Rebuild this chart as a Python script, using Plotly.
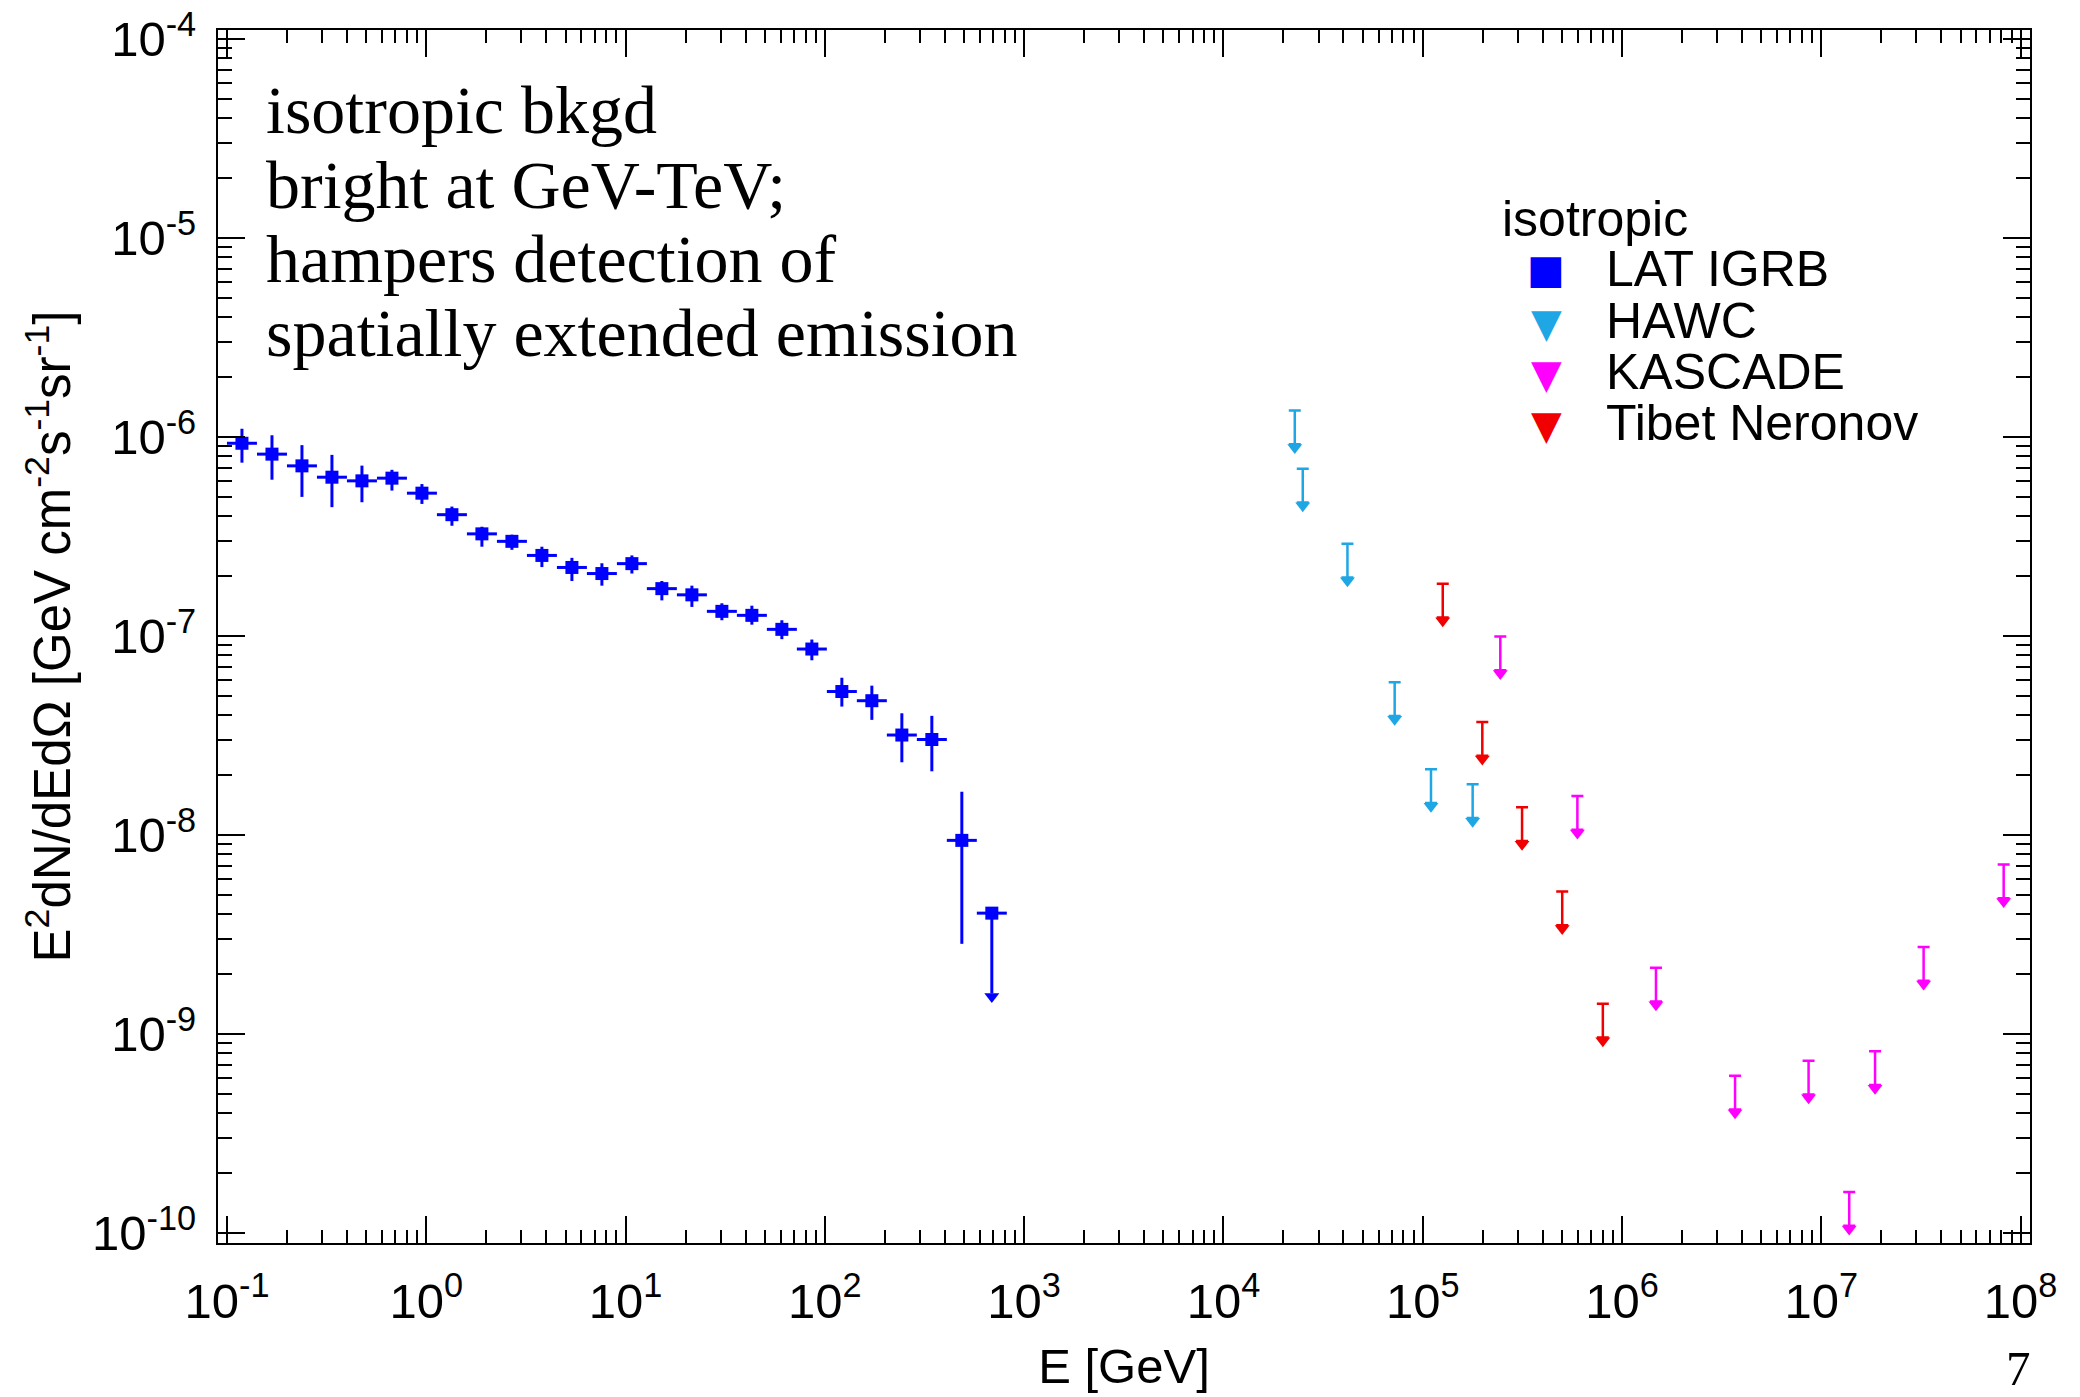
import plotly.graph_objects as go

# ---------------- data ----------------
# Fermi-LAT IGRB: bin centres [GeV], E^2 dN/dE [GeV cm^-2 s^-1 sr^-1], error-bar ends
lat_E = [0.1189, 0.1682, 0.2378, 0.3363, 0.4756, 0.6726, 0.9512, 1.345, 1.902, 2.690,
         3.804, 5.380, 7.607, 10.76, 15.21, 21.52, 30.43, 43.03, 60.85, 86.05,
         121.7, 172.1, 243.4, 344.2, 486.7]
lat_flux = [9.3e-7, 8.2e-7, 7.16e-7, 6.28e-7, 6.02e-7, 6.21e-7, 5.22e-7, 4.07e-7, 3.26e-7, 2.99e-7,
            2.54e-7, 2.21e-7, 2.06e-7, 2.31e-7, 1.73e-7, 1.61e-7, 1.33e-7, 1.27e-7, 1.08e-7, 8.6e-8,
            5.26e-8, 4.73e-8, 3.18e-8, 3.02e-8, 9.4e-9]
lat_hi = [1.10e-6, 1.02e-6, 9.1e-7, 8.13e-7, 7.18e-7, 6.84e-7, 5.80e-7, 4.47e-7, 3.54e-7, 3.23e-7,
          2.81e-7, 2.47e-7, 2.32e-7, 2.54e-7, 1.89e-7, 1.79e-7, 1.46e-7, 1.42e-7, 1.20e-7, 9.6e-8,
          6.17e-8, 5.63e-8, 4.09e-8, 3.97e-8, 1.65e-8]
lat_lo = [7.43e-7, 6.1e-7, 5.0e-7, 4.44e-7, 4.70e-7, 5.38e-7, 4.61e-7, 3.58e-7, 2.81e-7, 2.71e-7,
          2.22e-7, 1.89e-7, 1.79e-7, 2.06e-7, 1.51e-7, 1.40e-7, 1.20e-7, 1.14e-7, 9.64e-8, 7.55e-8,
          4.42e-8, 3.79e-8, 2.32e-8, 2.09e-8, 2.84e-9]
lat_bin_dec = 0.1505          # LAT bin width in decades of energy
# last LAT bin: point with a downward (upper-limit) arrow
lat_ul_E = [688.3]
lat_ul_flux = [4.05e-9]
lat_ul_tip = [1.43e-9]

# upper limits: energy [GeV], limit value
hawc_E = [2.28e4, 2.50e4, 4.19e4, 7.23e4, 1.10e5, 1.78e5]
hawc_ul = [1.357e-6, 6.93e-7, 2.91e-7, 5.86e-8, 2.14e-8, 1.80e-8]
kascade_E = [2.45e5, 5.97e5, 1.48e6, 3.69e6, 8.63e6, 1.38e7, 1.86e7, 3.26e7, 8.22e7]
kascade_ul = [9.95e-8, 1.57e-8, 2.15e-9, 6.18e-10, 7.34e-10, 1.61e-10, 8.20e-10, 2.74e-9, 7.10e-9]
tibet_E = [1.26e5, 1.99e5, 3.15e5, 5.01e5, 8.01e5]
tibet_ul = [1.83e-7, 3.70e-8, 1.38e-8, 5.20e-9, 1.42e-9]

x_tick_exp = [-1, 0, 1, 2, 3, 4, 5, 6, 7, 8]
x_tick_text = ["10<sup>-1</sup>", "10<sup>0</sup>", "10<sup>1</sup>", "10<sup>2</sup>", "10<sup>3</sup>",
               "10<sup>4</sup>", "10<sup>5</sup>", "10<sup>6</sup>", "10<sup>7</sup>", "10<sup>8</sup>"]
y_tick_exp = [-10, -9, -8, -7, -6, -5, -4]
y_tick_text = ["10<sup>-10</sup>", "10<sup>-9</sup>", "10<sup>-8</sup>", "10<sup>-7</sup>",
               "10<sup>-6</sup>", "10<sup>-5</sup>", "10<sup>-4</sup>"]

annotation_lines = ["isotropic bkgd", "bright at GeV-TeV;", "hampers detection of",
                    "spatially extended emission"]
legend_title = "isotropic"
legend_names = ["LAT IGRB", "HAWC", "KASCADE", "Tibet Neronov"]

# ---------------- styling ----------------
W, H = 2080, 1397
ML, MR, MT, MB = 218, 50, 30, 154
PW, PH = W - ML - MR, H - MT - MB
SANS = "Liberation Sans, Arial, Helvetica, sans-serif"
SERIF = "Liberation Serif, Times New Roman, Times, serif"
GLYPH = "DejaVu Sans, sans-serif"
BLUE = "#0000ff"
CYAN = "#1fa6e4"
MAGENTA = "#ff00ff"
RED = "#f00000"
FS = 49

DEC_PX = PH / 6.095           # pixels per decade on the y axis
TRI = 13                      # triangle-down marker size
ARROW_PX = 43.5               # cap-to-tip length of an upper-limit arrow


def dec(px):
    return px / DEC_PX


def px2x(X):
    return (X - ML) / PW


def px2y(Y):
    return 1 - (Y - MT) / PH


fig = go.Figure()

# LAT IGRB points
half = 10 ** (lat_bin_dec / 2)
fig.add_trace(go.Scatter(
    x=lat_E, y=lat_flux, mode="markers", name=legend_names[0], showlegend=False,
    marker=dict(symbol="square", size=13, color=BLUE),
    error_y=dict(type="data", symmetric=False,
                 array=[h - v for h, v in zip(lat_hi, lat_flux)],
                 arrayminus=[v - l for v, l in zip(lat_flux, lat_lo)],
                 color=BLUE, thickness=3, width=0),
    error_x=dict(type="data", symmetric=False,
                 array=[e * (half - 1) for e in lat_E],
                 arrayminus=[e * (1 - 1 / half) for e in lat_E],
                 color=BLUE, thickness=3, width=0),
))

# last LAT bin with arrow
r = TRI / 2
lat_arrow_y = [t * 10 ** dec(r) for t in lat_ul_tip]
lat_line_end = [t * 10 ** dec(1.5 * r) for t in lat_ul_tip]
fig.add_trace(go.Scatter(
    x=lat_ul_E, y=lat_ul_flux, mode="markers", showlegend=False, name=legend_names[0],
    marker=dict(symbol="square", size=13, color=BLUE),
    error_y=dict(type="data", symmetric=False, array=[0] * len(lat_ul_E),
                 arrayminus=[v - l for v, l in zip(lat_ul_flux, lat_line_end)],
                 color=BLUE, thickness=3, width=0),
    error_x=dict(type="data", symmetric=False,
                 array=[e * (half - 1) for e in lat_ul_E],
                 arrayminus=[e * (1 - 1 / half) for e in lat_ul_E],
                 color=BLUE, thickness=3, width=0),
))
fig.add_trace(go.Scatter(
    x=lat_ul_E, y=lat_arrow_y, mode="markers", showlegend=False, hoverinfo="skip",
    marker=dict(symbol="triangle-down", size=TRI, color=BLUE),
))


def add_limits(E, ul, color, name):
    center = [u * 10 ** (-dec(ARROW_PX - r)) for u in ul]
    line_end = [u * 10 ** (-dec(ARROW_PX - 1.5 * r)) for u in ul]
    fig.add_trace(go.Scatter(
        x=E, y=ul, mode="markers", showlegend=False, hoverinfo="skip", name=name,
        marker=dict(size=1, color=color, opacity=0),
        error_y=dict(type="data", symmetric=False, array=[0] * len(ul),
                     arrayminus=[u - l for u, l in zip(ul, line_end)],
                     color=color, thickness=2.5, width=6),
    ))
    fig.add_trace(go.Scatter(
        x=E, y=center, mode="markers", name=name, showlegend=False,
        marker=dict(symbol="triangle-down", size=TRI, color=color),
    ))


add_limits(hawc_E, hawc_ul, CYAN, legend_names[1])
add_limits(kascade_E, kascade_ul, MAGENTA, legend_names[2])
add_limits(tibet_E, tibet_ul, RED, legend_names[3])


def minor_vals(lo, hi):
    out = []
    for n in range(lo, hi + 1):
        for k in range(2, 10):
            out.append(k * 10.0 ** n)
    return out


axis_common = dict(
    type="log", ticks="inside", tickwidth=2, tickcolor="black",
    showline=True, linewidth=2, linecolor="black", mirror="ticks",
    showgrid=False, zeroline=False,
    tickfont=dict(family=SANS, size=FS, color="black"),
)

fig.update_xaxes(
    **axis_common,
    range=[-1.045, 8.047], tickmode="array",
    tickvals=[10.0 ** p for p in x_tick_exp], ticktext=x_tick_text,
    ticklen=27, ticklabelstandoff=14,
    minor=dict(tickmode="array", tickvals=minor_vals(-2, 8), ticks="inside",
               ticklen=13, tickwidth=2, tickcolor="black", showgrid=False),
    title=dict(text="E [GeV]", font=dict(family=SANS, size=FS, color="black"), standoff=22),
)
fig.update_yaxes(
    **axis_common,
    range=[-10.05, -3.955], tickmode="array",
    tickvals=[10.0 ** p for p in y_tick_exp], ticktext=y_tick_text,
    ticklen=27, ticklabelstandoff=10,
    minor=dict(tickmode="array", tickvals=minor_vals(-11, -4), ticks="inside",
               ticklen=14, tickwidth=2, tickcolor="black", showgrid=False),
    title=dict(text="E<sup>2</sup>dN/dEdΩ [GeV cm<sup>-2</sup>s<sup>-1</sup>sr<sup>-1</sup>]",
               font=dict(family=SANS, size=51, color="black"), standoff=5),
)

# text block (Times-like) drawn line by line
baselines = [133, 208, 282, 356]
TFS = 68
for line, b in zip(annotation_lines, baselines):
    fig.add_annotation(text=line, xref="paper", yref="paper", x=px2x(264), y=px2y(b - 0.3375 * TFS),
                       xanchor="left", yanchor="middle", showarrow=False,
                       font=dict(family=SERIF, size=TFS, color="black"))

# legend (title, glyphs and labels)
LFS = 50
fig.add_annotation(text=legend_title, xref="paper", yref="paper", x=px2x(1500),
                   y=px2y(236 - 0.3465 * LFS), xanchor="left", yanchor="middle",
                   showarrow=False, font=dict(family=SANS, size=LFS, color="black"))
leg_baselines = [286, 338, 389, 440]
leg_glyphs = [("■", BLUE, 40, 0), ("▼", CYAN, 40, 2), ("▼", MAGENTA, 40, 2), ("▼", RED, 40, 2)]
for name, b, (g, col, gs, dy) in zip(legend_names, leg_baselines, leg_glyphs):
    fig.add_annotation(text=name, xref="paper", yref="paper", x=px2x(1604),
                       y=px2y(b - 0.3465 * LFS), xanchor="left", yanchor="middle",
                       showarrow=False, font=dict(family=SANS, size=LFS, color="black"))
    fig.add_annotation(text=g, xref="paper", yref="paper", x=px2x(1546),
                       y=px2y(b - 0.3465 * LFS + dy), xanchor="center", yanchor="middle",
                       showarrow=False, borderpad=0, font=dict(family=GLYPH, size=gs, color=col))

# slide number
fig.add_annotation(text="7", xref="paper", yref="paper", x=px2x(2032), y=px2y(1397),
                   xanchor="right", yanchor="bottom", showarrow=False, borderpad=0,
                   font=dict(family=SERIF, size=49, color="black"))

fig.update_layout(
    width=W, height=H,
    margin=dict(l=ML, r=MR, t=MT, b=MB, autoexpand=False),
    paper_bgcolor="white", plot_bgcolor="white",
    font=dict(family=SANS, size=FS, color="black"),
    showlegend=False,
)

fig.write_html("out.html", include_plotlyjs=True, full_html=True,
               config={"displayModeBar": False},
               post_script="document.body.style.margin='0';document.body.style.overflow='hidden';")
